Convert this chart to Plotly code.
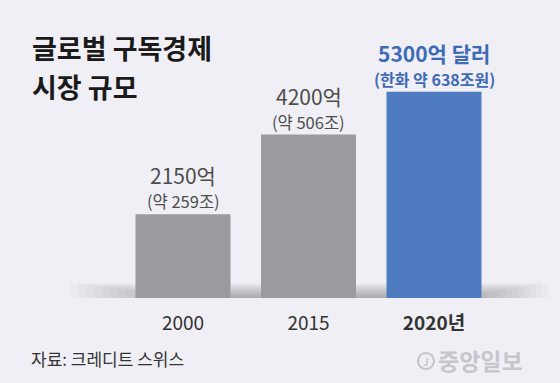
import plotly.graph_objects as go

# ---- data ----
years = ["2000", "2015", "2020"]
tick_labels = ["2000", "2015", "<b>2020년</b>"]
values = [2150, 4200, 5300]
value_labels = ["2150억", "4200억", "<b>5300억 달러</b>"]
krw_labels = ["(약 259조)", "(약 506조)", "<b>(한화 약 638조원)</b>"]
title_lines = ["<b>글로벌 구독경제</b>", "<b>시장 규모</b>"]
source_text = "자료: 크레디트 스위스"

# ---- style ----
W, H = 560, 383
BASE = 298            # pixel row of the baseline
BG = "#f0eff5"
GRAY = "#9b9a9f"
BLUE = "#4f7cc0"
BLUE_TXT = "#3d6bb5"
TXT = "#4d4d4d"
FONT = "Noto Sans CJK KR"
bar_colors = [GRAY, GRAY, BLUE]
label_colors = [TXT, TXT, BLUE_TXT]
label_sizes = [21, 21, 21]
sub_sizes = [16.5, 16.5, 16]

xpos = list(range(len(years)))
first_center, step = 183, 125.5
px_per_unit = 0.0389


def px2paper_x(px):
    return px / W


def px2paper_y(py):
    return (BASE - py) / BASE


fig = go.Figure()
fig.add_trace(go.Bar(
    x=xpos, y=values, width=0.757,
    marker=dict(color=bar_colors, line=dict(width=0)),
    hoverinfo="skip",
))

annotations = []
for i, v in enumerate(values):
    annotations.append(dict(
        x=xpos[i], y=v, xref="x", yref="y", text=value_labels[i],
        showarrow=False, yanchor="middle", yshift=39, borderpad=0,
        font=dict(family=FONT, size=label_sizes[i], color=label_colors[i])))
    annotations.append(dict(
        x=xpos[i], y=v, xref="x", yref="y", text=krw_labels[i],
        showarrow=False, yanchor="middle", yshift=13, borderpad=0,
        font=dict(family=FONT, size=sub_sizes[i], color=label_colors[i])))

# title
for k, (line, py) in enumerate(zip(title_lines, [47, 86])):
    annotations.append(dict(
        x=px2paper_x(31), y=px2paper_y(py), xref="paper", yref="paper",
        text=line, showarrow=False, xanchor="left", yanchor="middle",
        borderpad=0,
        font=dict(family=FONT, size=27, color="#1a1a1a")))

# source
annotations.append(dict(
    x=px2paper_x(29), y=px2paper_y(358), xref="paper", yref="paper",
    text=source_text, showarrow=False, xanchor="left", yanchor="middle",
    font=dict(family=FONT, size=17, color="#333333")))

# logo
annotations.append(dict(
    x=px2paper_x(436), y=px2paper_y(360), xref="paper", yref="paper",
    text="<b>중앙일보</b>", showarrow=False, xanchor="left", yanchor="middle",
    font=dict(family=FONT, size=23, color="#c6c6cb")))
annotations.append(dict(
    x=px2paper_x(426), y=px2paper_y(361), xref="paper", yref="paper",
    text="<b>J</b>", showarrow=False, xanchor="center", yanchor="middle",
    font=dict(family=FONT, size=10, color="#c6c6cb")))

shapes = []
# soft shadow along the baseline
n = 14
for i in range(n):
    hgt = 15 - i
    shapes.append(dict(
        type="rect", xref="paper", yref="paper", layer="below",
        x0=px2paper_x(70 + 8 * i), x1=px2paper_x(548 - 6 * i),
        y0=px2paper_y(BASE), y1=px2paper_y(BASE - hgt),
        fillcolor="rgba(0,0,0,0.018)", line=dict(width=0)))
shapes.append(dict(
    type="circle", xref="paper", yref="paper",
    x0=px2paper_x(418), x1=px2paper_x(434),
    y0=px2paper_y(369), y1=px2paper_y(353),
    line=dict(color="#c6c6cb", width=2.2)))

fig.update_layout(
    width=W, height=H,
    margin=dict(l=0, r=0, t=0, b=H - BASE),
    paper_bgcolor=BG, plot_bgcolor=BG,
    showlegend=False,
    xaxis=dict(
        range=[-first_center / step, (W - first_center) / step],
        tickvals=xpos, ticktext=tick_labels, ticks="",
        showgrid=False, zeroline=False, showline=False,
        ticklabelstandoff=12,
        tickfont=dict(family=FONT, size=19, color="#333333"),
        fixedrange=True),
    yaxis=dict(
        range=[0, BASE / px_per_unit], visible=False,
        showgrid=False, zeroline=False, fixedrange=True),
    annotations=annotations, shapes=shapes,
)

fig.write_html(
    "out.html",
    config={"displayModeBar": False},
    post_script="document.body.style.margin='0px';document.body.style.overflow='hidden';",
)
